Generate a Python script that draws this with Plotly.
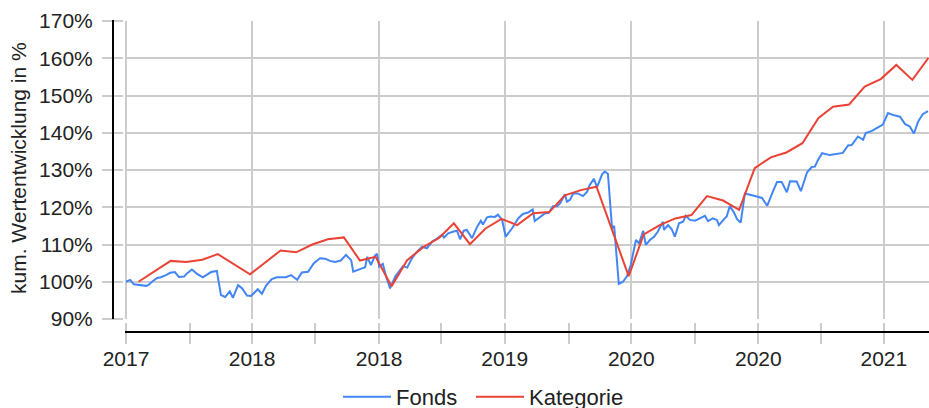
import pandas as pd
import plotly.graph_objects as go

# ---- data ----
start_date = "2017-07-01"

# Fonds: day offsets from start_date and cumulative performance in %
fonds_tag = [0, 8, 15, 27, 39, 44, 50, 60, 67, 77, 85, 94, 102, 112, 118, 127, 137, 148, 158, 164,
             175, 183, 191, 200, 206, 216, 224, 233, 241, 247, 254, 262, 270, 281, 291, 308, 318, 330,
             339, 351, 362, 374, 384, 393, 403, 414, 424, 434, 438, 451, 461, 465, 472, 480, 484, 488,
             495, 501, 509, 519, 524, 534, 542, 551, 561, 571, 580, 590, 599, 609, 613, 621, 630, 638,
             644, 651, 657, 667, 677, 684, 688, 696, 702, 711, 717, 725, 732, 744, 756, 765, 775, 784,
             788, 798, 808, 815, 823, 831, 837, 846, 850, 856, 862, 871, 881, 889, 894, 902, 908, 918,
             923, 929, 937, 941, 950, 958, 966, 973, 983, 989, 997, 1002, 1010, 1018, 1025, 1035, 1037,
             1045, 1052, 1058, 1066, 1074, 1079, 1087, 1097, 1110, 1116, 1122, 1131, 1139, 1143, 1153,
             1158, 1164, 1172, 1178, 1185, 1193, 1207, 1216, 1226, 1236, 1247, 1255, 1264, 1274, 1280,
             1293, 1301, 1313, 1322, 1328, 1334, 1342, 1357, 1367, 1382, 1392, 1399, 1411, 1421, 1426,
             1438, 1448, 1459, 1469, 1478, 1492, 1502, 1511, 1519, 1527, 1536, 1546]
fonds_wert = [100.0, 100.5, 99.3, 99.1, 98.9, 99.2, 100.0, 101.0, 101.2, 101.8, 102.4, 102.6, 101.3,
              101.4, 102.3, 103.3, 102.1, 101.2, 102.0, 102.6, 102.9, 96.4, 95.9, 97.4, 95.7, 99.1,
              98.2, 96.3, 96.2, 97.1, 98.0, 96.8, 99.0, 100.7, 101.2, 101.2, 101.8, 100.5, 102.5,
              102.7, 105.0, 106.3, 106.2, 105.6, 105.3, 105.7, 107.2, 105.8, 102.7, 103.4, 103.9,
              106.7, 104.5, 107.0, 107.5, 104.1, 104.8, 101.6, 98.2, 101.4, 102.3, 104.2, 103.8,
              106.3, 108.1, 109.4, 109.0, 110.8, 111.5, 112.6, 111.9, 113.0, 113.4, 113.7, 111.4,
              113.7, 113.9, 111.7, 114.8, 116.4, 115.4, 117.3, 117.5, 117.4, 118.0, 116.6, 112.1,
              114.3, 117.0, 118.2, 118.6, 119.4, 116.3, 117.3, 118.4, 118.5, 120.3, 120.3, 121.1,
              123.5, 121.5, 122.0, 123.7, 123.7, 123.0, 124.2, 126.0, 127.6, 125.4, 128.9, 129.6,
              129.0, 114.3, 115.0, 99.4, 100.0, 101.5, 104.5, 111.2, 110.3, 113.7, 109.9, 111.2,
              112.1, 113.4, 116.1, 113.9, 115.2, 114.1, 112.1, 115.7, 116.1, 117.7, 116.6, 116.4,
              117.3, 117.7, 116.3, 117.0, 116.6, 115.2, 116.8, 117.5, 120.3, 118.6, 116.8, 115.9,
              123.7, 123.3, 122.9, 122.5, 120.4, 124.2, 126.8, 126.8, 124.0, 127.0, 126.9, 124.3,
              129.4, 130.8, 130.9, 132.7, 134.5, 134.0, 134.3, 134.6, 136.6, 136.7, 139.0, 138.1,
              139.9, 140.5, 141.3, 142.2, 145.3, 144.8, 144.3, 142.3, 141.7, 139.8, 143.0, 145.0,
              145.8]

# Kategorie: monthly values
kategorie_datum = ["2017-07-25", "2017-09-25", "2017-10-25", "2017-11-25", "2017-12-25",
                   "2018-02-25", "2018-04-25", "2018-05-25", "2018-06-25", "2018-07-25",
                   "2018-08-25", "2018-09-25", "2018-10-25", "2018-11-25", "2018-12-25",
                   "2019-01-25", "2019-02-25", "2019-03-25", "2019-04-25", "2019-05-25",
                   "2019-06-25", "2019-07-25", "2019-08-25", "2019-09-25", "2019-10-25",
                   "2019-11-25", "2019-12-25", "2020-02-25", "2020-03-25", "2020-04-25",
                   "2020-05-25", "2020-06-25", "2020-07-25", "2020-08-25", "2020-09-25",
                   "2020-10-25", "2020-11-25", "2020-12-25", "2021-01-25", "2021-02-25",
                   "2021-03-25", "2021-04-25", "2021-05-25", "2021-06-25", "2021-07-25",
                   "2021-08-25", "2021-09-25"]
kategorie_wert = [100.0, 105.6, 105.3, 105.9, 107.4, 102.0, 108.4, 107.9, 110.0, 111.4,
                  111.9, 105.7, 106.7, 98.8, 105.8, 109.3, 111.8, 115.7, 110.1, 114.3,
                  116.9, 115.2, 118.4, 118.7, 123.2, 124.6, 125.5, 101.5, 112.7, 115.2,
                  117.0, 117.9, 123.0, 121.8, 119.3, 130.5, 133.4, 134.7, 137.2, 144.0,
                  147.0, 147.6, 152.4, 154.4, 158.2, 154.2, 160.1]

serien_namen = ["Fonds", "Kategorie"]
y_titel = "kum. Wertentwicklung in %"

# ---- figure ----
fonds_datum = pd.to_datetime(start_date) + pd.to_timedelta(fonds_tag, unit="D")

W, H = 929, 408
T, B = 20, 60
PH = H - T - B


def py(pix):
    return (H - B - pix) / PH


FONT = "Liberation Sans, Arial, sans-serif"
GRID = "#cccccc"

fig = go.Figure()
fig.add_trace(go.Scatter(x=fonds_datum, y=fonds_wert, mode="lines", name=serien_namen[0],
                         line=dict(color="#4285f4", width=2), legend="legend"))
fig.add_trace(go.Scatter(x=pd.to_datetime(kategorie_datum), y=kategorie_wert, mode="lines",
                         name=serien_namen[1], line=dict(color="#ea4335", width=2),
                         legend="legend2"))

leg_common = dict(orientation="h", xanchor="left", y=py(397), yanchor="middle",
                  font=dict(size=22), itemwidth=48, bgcolor="rgba(0,0,0,0)")

fig.update_layout(
    width=W, height=H,
    margin=dict(l=0, r=0, t=T, b=B, autoexpand=False),
    paper_bgcolor="white", plot_bgcolor="white",
    font=dict(family=FONT, size=21, color="#222222"),
    showlegend=True,
    legend=dict(x=338 / W, **leg_common),
    legend2=dict(x=471 / W, **leg_common),
    xaxis=dict(
        type="date", domain=[125 / W, 1], range=["2017-06-29", "2021-09-26"],
        anchor="free", position=py(322),
        tick0="2017-07-01", dtick="M8", tickformat="%Y",
        ticks="outside", ticklen=21, tickwidth=2, tickcolor=GRID,
        showgrid=True, gridcolor=GRID, gridwidth=2,
        minor=dict(tick0="2017-07-01", dtick="M4", ticks="outside", ticklen=21,
                   tickwidth=2, tickcolor=GRID, showgrid=False),
        showline=False, zeroline=False, automargin=False,
        ticklabelstandoff=-3,
        tickfont=dict(size=21),
    ),
    yaxis=dict(
        domain=[py(319), py(21)], range=[90, 170], dtick=10, ticksuffix="%",
        anchor="free", position=123 / W,
        ticks="outside", ticklen=21, tickwidth=2, tickcolor=GRID,
        showgrid=True, gridcolor=GRID, gridwidth=2,
        showline=False, zeroline=False, automargin=False,
        ticklabelstandoff=5,
        tickfont=dict(size=21),
    ),
    shapes=[
        dict(type="line", xref="paper", yref="paper", x0=113 / W, x1=113 / W,
             y0=py(319), y1=py(20), line=dict(color="black", width=2)),
        dict(type="line", xref="paper", yref="paper", x0=125 / W, x1=1,
             y0=py(332), y1=py(332), line=dict(color="black", width=2)),
    ],
    annotations=[
        dict(text=y_titel, xref="paper", yref="paper", x=18 / W, y=py(168),
             textangle=-90, showarrow=False, font=dict(size=21, color="#222222"),
             xanchor="center", yanchor="middle"),
    ],
)

fig.write_html(
    "out.html",
    config={"responsive": False, "displayModeBar": False},
    post_script="document.body.style.margin='0';document.body.style.overflow='hidden';",
)
